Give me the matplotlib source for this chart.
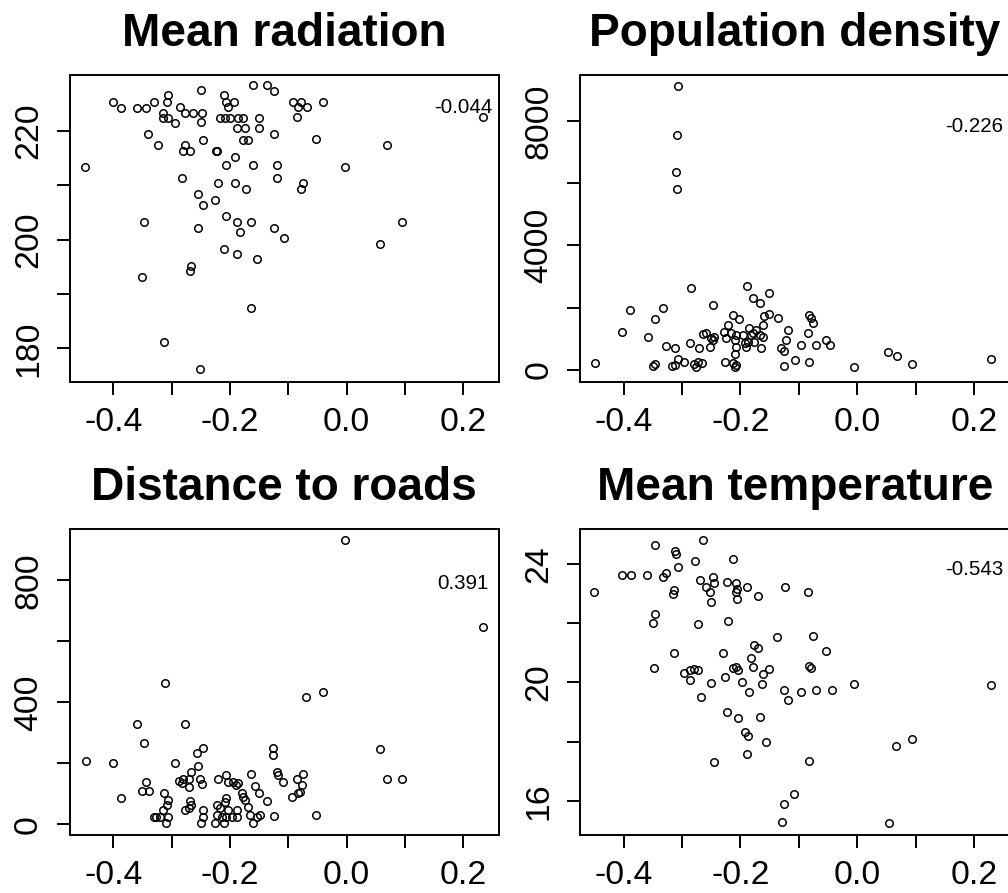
import matplotlib
matplotlib.use("Agg")
import matplotlib.pyplot as plt

plt.rcParams['font.family'] = ['Liberation Sans', 'DejaVu Sans']

# ---- data -------------------------------------------------------------
titles = ["Mean radiation", "Population density", "Distance to roads", "Mean temperature"]
corr_labels = ["-0.044", "-0.226", "0.391", "-0.543"]
corr_y = [223.3, 7650, 771, 23.64]

rad_x = [-0.448, -0.400, -0.387, -0.359, -0.344, -0.330, -0.307, -0.308, -0.314, -0.306,
         -0.314, -0.294, -0.286, -0.277, -0.263, -0.248, -0.250, -0.250, -0.340, -0.323,
         -0.277, -0.280, -0.269, -0.246, -0.224, -0.222, -0.211, -0.206, -0.193, -0.203,
         -0.217, -0.209, -0.200, -0.186, -0.177, -0.188, -0.174, -0.177, -0.169, -0.151,
         -0.151, -0.125, -0.160, -0.137, -0.125, -0.191, -0.206, -0.160, -0.120, -0.120,
         -0.283, -0.220, -0.191, -0.173, -0.254, -0.226, -0.246, -0.206, -0.188, -0.164,
         -0.124, -0.254, -0.183, -0.347, -0.211, -0.188, -0.153, -0.266, -0.269, -0.350,
         -0.164, -0.313, -0.251, -0.092, -0.079, -0.083, -0.068, -0.085, -0.041, -0.053,
         0.069, -0.003, -0.075, -0.079, -0.107, 0.095, 0.057, 0.233]
rad_y = [213.4, 225.2, 224.2, 224.2, 224.2, 225.3, 226.6, 225.3, 222.3, 222.3,
         223.2, 221.3, 224.3, 223.3, 223.3, 223.3, 227.4, 221.5, 219.3, 217.4,
         217.4, 216.3, 216.3, 218.3, 216.3, 216.3, 226.6, 225.3, 225.3, 224.3,
         222.3, 222.3, 222.3, 222.3, 222.3, 220.4, 220.4, 218.3, 218.3, 222.3,
         220.4, 219.4, 228.3, 228.3, 227.2, 215.2, 213.6, 213.6, 213.6, 211.3,
         211.3, 210.3, 210.3, 209.3, 208.4, 207.3, 206.3, 204.4, 203.2, 203.2,
         202.2, 202.2, 201.3, 203.2, 198.2, 197.3, 196.4, 195.1, 194.2, 193.2,
         187.4, 181.1, 176.2, 225.2, 225.2, 224.3, 224.3, 222.4, 225.2, 218.4,
         217.4, 213.3, 210.3, 209.3, 200.3, 203.2, 199.1, 222.4]

pop_x = [-0.307, -0.309, -0.310, -0.309, -0.284, -0.188, -0.178, -0.166, -0.151, -0.403,
         -0.389, -0.359, -0.347, -0.333, -0.327, -0.313, -0.350, -0.346, -0.317, -0.313,
         -0.307, -0.296, -0.287, -0.279, -0.276, -0.273, -0.266, -0.271, -0.265, -0.259,
         -0.253, -0.250, -0.247, -0.245, -0.247, -0.229, -0.224, -0.222, -0.216, -0.213,
         -0.210, -0.203, -0.207, -0.226, -0.213, -0.210, -0.207, -0.209, -0.207, -0.196,
         -0.193, -0.190, -0.187, -0.185, -0.182, -0.179, -0.176, -0.173, -0.167, -0.164,
         -0.162, -0.162, -0.159, -0.151, -0.136, -0.119, -0.122, -0.130, -0.125, -0.126,
         -0.107, -0.096, -0.085, -0.082, -0.070, -0.083, -0.080, -0.076, -0.054, -0.046,
         -0.006, 0.053, 0.068, 0.094, 0.230, -0.450]
pop_y = [9126, 7544, 6366, 5810, 2623, 2696, 2302, 2141, 2462, 1229,
         1926, 1050, 1637, 1981, 780, 716, 138, 183, 128, 160,
         343, 266, 857, 183, 87, 266, 215, 696, 1156, 1178,
         748, 1018, 963, 1069, 2087, 1229, 1018, 1445, 1178, 1766,
         963, 1627, 1124, 266, 215, 87, 160, 514, 748, 1124,
         857, 748, 909, 1339, 1124, 1178, 909, 1284, 1124, 696,
         1069, 1445, 1733, 1798, 1660, 1284, 963, 696, 620, 128,
         321, 803, 1178, 266, 803, 1766, 1660, 1499, 963, 803,
         107, 587, 449, 193, 343, 234]

road_x = [-0.447, -0.400, -0.386, -0.359, -0.347, -0.311, -0.277, -0.295, -0.344, -0.350,
          -0.338, -0.313, -0.307, -0.308, -0.314, -0.331, -0.326, -0.320, -0.306, -0.310,
          -0.287, -0.281, -0.283, -0.270, -0.271, -0.266, -0.254, -0.256, -0.246, -0.251,
          -0.248, -0.269, -0.266, -0.277, -0.271, -0.246, -0.246, -0.250, -0.220, -0.207,
          -0.203, -0.194, -0.190, -0.186, -0.180, -0.177, -0.174, -0.164, -0.157, -0.151,
          -0.137, -0.223, -0.217, -0.209, -0.206, -0.203, -0.188, -0.223, -0.214, -0.206,
          -0.197, -0.188, -0.226, -0.211, -0.169, -0.166, -0.160, -0.154, -0.149, -0.126,
          -0.126, -0.120, -0.117, -0.109, -0.086, -0.075, -0.077, -0.080, -0.083, -0.093,
          -0.125, -0.052, -0.003, 0.233, -0.070, -0.041, 0.057, 0.069, 0.095]
road_y = [208, 202, 86, 329, 268, 462, 329, 202, 138, 109,
          109, 104, 80, 63, 47, 25, 25, 25, 25, 3,
          143, 148, 136, 148, 123, 172, 191, 235, 249, 148,
          132, 77, 63, 47, 52, 47, 25, 3, 148, 162,
          140, 140, 129, 134, 102, 90, 80, 164, 126, 104,
          76, 63, 52, 74, 85, 47, 47, 30, 25, 25,
          25, 23, 3, 3, 58, 30, 3, 25, 30, 249,
          227, 172, 162, 140, 148, 164, 129, 107, 103, 91,
          26, 31, 932, 646, 418, 435, 247, 149, 149]

temp_x = [-0.451, -0.403, -0.387, -0.360, -0.346, -0.333, -0.327, -0.316, -0.314, -0.347,
          -0.350, -0.314, -0.349, -0.312, -0.310, -0.307, -0.296, -0.287, -0.279, -0.273,
          -0.287, -0.278, -0.265, -0.270, -0.259, -0.247, -0.246, -0.253, -0.251, -0.273,
          -0.250, -0.267, -0.222, -0.230, -0.226, -0.213, -0.207, -0.205, -0.197, -0.186,
          -0.223, -0.204, -0.212, -0.223, -0.207, -0.206, -0.207, -0.189, -0.206, -0.193,
          -0.187, -0.189, -0.246, -0.182, -0.177, -0.170, -0.170, -0.178, -0.162, -0.151,
          -0.163, -0.123, -0.085, -0.137, -0.076, -0.053, -0.083, -0.080, -0.126, -0.119,
          -0.097, -0.070, -0.044, -0.006, -0.166, -0.157, -0.082, -0.109, -0.126, -0.128,
          0.054, 0.067, 0.094, 0.230]
temp_y = [23.05, 23.64, 23.64, 23.64, 24.65, 23.56, 23.70, 22.99, 23.13, 22.32,
          22.02, 21.01, 20.50, 24.43, 24.34, 23.92, 20.31, 20.42, 20.45, 20.42,
          20.08, 24.12, 24.82, 23.45, 23.24, 23.58, 23.36, 23.07, 22.73, 21.98,
          19.97, 19.52, 22.08, 21.01, 20.18, 20.48, 20.53, 20.42, 20.03, 19.69,
          19.01, 18.79, 24.18, 23.41, 23.36, 23.15, 23.07, 23.22, 22.82, 18.34,
          18.19, 17.58, 17.30, 20.82, 21.27, 21.18, 22.93, 20.53, 20.29, 20.45,
          19.94, 23.22, 23.05, 21.53, 21.57, 21.07, 20.56, 20.48, 19.75, 19.41,
          19.69, 19.75, 19.75, 19.94, 18.84, 18.00, 17.35, 16.22, 15.88, 15.29,
          15.26, 17.85, 18.09, 19.92]

x_ticks = [-0.4, -0.3, -0.2, -0.1, 0.0, 0.1, 0.2]
x_ticklabels = ["-0.4", "", "-0.2", "", "0.0", "", "0.2"]
y_ticks = [[180, 190, 200, 210, 220], [0, 2000, 4000, 6000, 8000],
           [0, 200, 400, 600, 800], [16, 18, 20, 22, 24]]
y_ticklabels = [["180", "", "200", "", "220"], ["0", "", "4000", "", "8000"],
                ["0", "", "400", "", "800"], ["16", "", "20", "", "24"]]
y_limits = [(173.9, 230.2), (-375, 9470), (-35, 968), (14.84, 25.19)]
x_limits = (-0.475, 0.261)

# ---- layout -------------------------------------------------------------
fig = plt.figure(figsize=(10.08, 8.93), dpi=100)
W, H = 1008.0, 893.0
boxes = [(69.5, 75, 499, 381.7), (580, 75, 1009.5, 381.7),
         (69.5, 529, 499, 835), (580, 529, 1009.5, 835)]

series = [(rad_x, rad_y), (pop_x, pop_y), (road_x, road_y), (temp_x, temp_y)]

for i, (l, t, r, b) in enumerate(boxes):
    ax = fig.add_axes([l / W, 1 - b / H, (r - l) / W, (b - t) / H])
    xs, ys = series[i]
    ax.plot(xs, ys, linestyle='none', marker='o', markersize=5.4,
            markerfacecolor='none', markeredgecolor='black', markeredgewidth=1.1)
    ax.set_xlim(*x_limits)
    ax.set_ylim(*y_limits[i])
    ax.set_xticks(x_ticks)
    ax.set_xticklabels(x_ticklabels)
    ax.set_yticks(y_ticks[i])
    ax.set_yticklabels(y_ticklabels[i], rotation=90, va='center')
    ax.tick_params(axis='both', length=9.7, width=1.4, labelsize=24.3, color='black')
    ax.tick_params(axis='x', pad=8.4)
    ax.tick_params(axis='y', pad=8.6)
    for sp in ax.spines.values():
        sp.set_linewidth(1.4)
    ax.set_title(titles[i], fontsize=33.1, fontweight='bold', pad=20.9)
    ax.text(0.2, corr_y[i], corr_labels[i], ha='center', va='baseline', fontsize=14.8)

fig.savefig("out.png", dpi=100)
